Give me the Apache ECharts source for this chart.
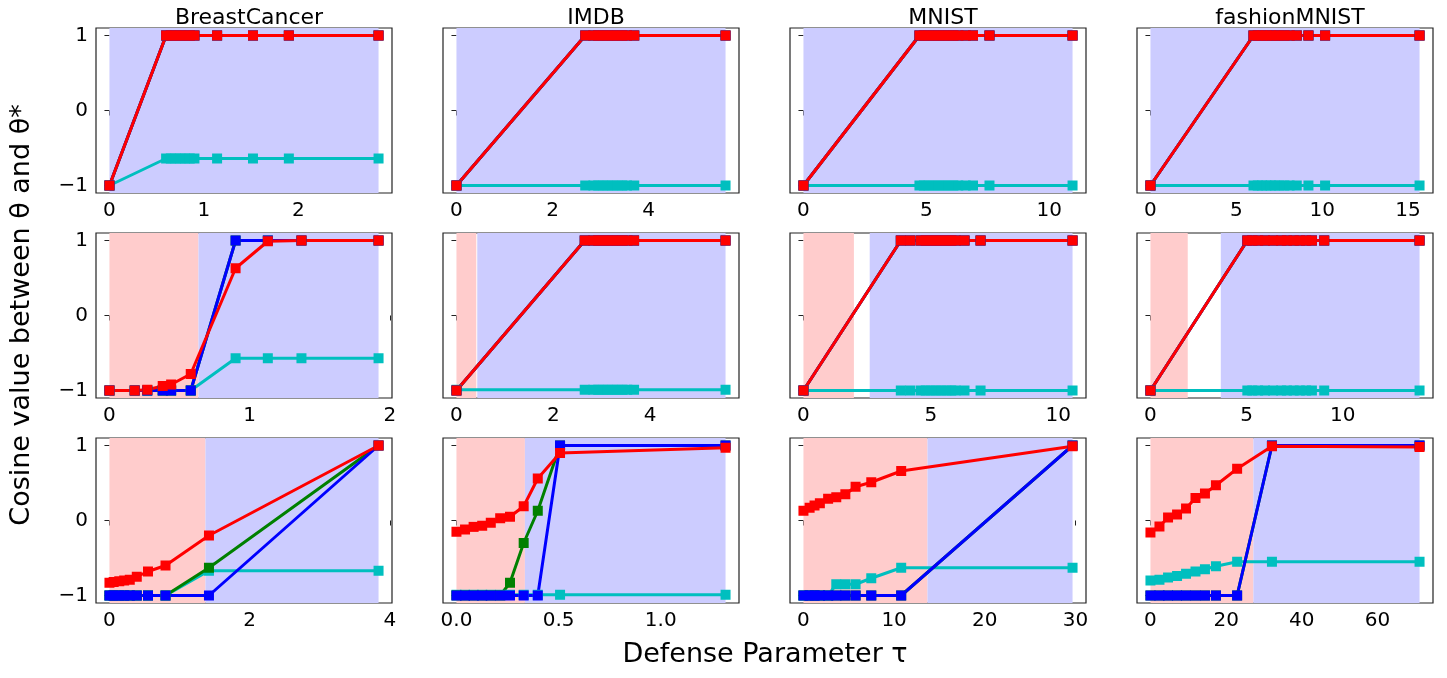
<!DOCTYPE html>
<html lang="en" style="height: 100%">
<head>
  <meta charset="utf-8">
</head>
<body style="height: 100%; margin: 0; background: #fff">
  <div id="container" style="width: 1447px; height: 678px"></div>
  <script type="text/javascript" src="https://cdn.jsdelivr.net/npm/echarts@6/dist/echarts.min.js"></script>
  <script type="text/javascript">
    // dataset titles
    var titles = ['BreastCancer', 'IMDB', 'MNIST', 'fashionMNIST'];

    // ---- row 1 ----
    var x_bc1 = [0, 0.6, 0.65, 0.7, 0.75, 0.8, 0.85, 0.9, 1.14, 1.52, 1.9, 2.85];
    var cyan_bc1 = [-1, -0.64, -0.64, -0.64, -0.64, -0.64, -0.64, -0.64, -0.64, -0.64, -0.64, -0.64];
    var top_bc1 = [-1, 1, 1, 1, 1, 1, 1, 1, 1, 1, 1, 1];

    var x_im1 = [0, 2.68, 2.85, 2.95, 3.05, 3.15, 3.25, 3.35, 3.45, 3.55, 3.7, 5.6];
    var cyan_im1 = [-1, -1, -1, -1, -1, -1, -1, -1, -1, -1, -1, -1];
    var top_im1 = [-1, 1, 1, 1, 1, 1, 1, 1, 1, 1, 1, 1];

    var x_mn1 = [0, 4.72, 4.9, 5.1, 5.3, 5.5, 5.7, 5.9, 6.1, 6.3, 6.6, 6.9, 7.57, 10.95];
    var cyan_mn1 = [-1, -1, -1, -1, -1, -1, -1, -1, -1, -1, -1, -1, -1, -1];
    var top_mn1 = [-1, 1, 1, 1, 1, 1, 1, 1, 1, 1, 1, 1, 1, 1];

    var x_fm1 = [0, 6.0, 6.25, 6.5, 6.75, 7.0, 7.25, 7.5, 7.8, 8.1, 8.52, 9.2, 10.17, 15.67];
    var cyan_fm1 = [-1, -1, -1, -1, -1, -1, -1, -1, -1, -1, -1, -1, -1, -1];
    var top_fm1 = [-1, 1, 1, 1, 1, 1, 1, 1, 1, 1, 1, 1, 1, 1];

    // ---- row 2 ----
    var x_bc2 = [0, 0.18, 0.27, 0.38, 0.44, 0.58, 0.9, 1.13, 1.37, 1.92];
    var cyan_bc2 = [-1, -1, -1, -1, -1, -1, -0.57, -0.57, -0.57, -0.57];
    var blue_bc2 = [-1, -1, -1, -1, -1, -1, 1, 1, 1, 1];
    var red_bc2 = [-1, -1, -0.99, -0.94, -0.92, -0.78, 0.63, 0.99, 1, 1];

    var x_im2 = [0, 2.65, 2.83, 2.93, 3.03, 3.13, 3.23, 3.33, 3.43, 3.53, 3.67, 5.56];
    var cyan_im2 = [-0.99, -0.99, -0.99, -0.99, -0.99, -0.99, -0.99, -0.99, -0.99, -0.99, -0.99, -0.99];
    var top_im2 = [-1, 1, 1, 1, 1, 1, 1, 1, 1, 1, 1, 1];

    var x_mn2 = [0, 3.82, 4.19, 4.6, 4.8, 5.0, 5.2, 5.4, 5.6, 5.8, 5.97, 6.32, 6.95, 10.56];
    var cyan_mn2 = [-1, -1, -1, -1, -1, -1, -1, -1, -1, -1, -1, -1, -1, -1];
    var top_mn2 = [-1, 1, 1, 1, 1, 1, 1, 1, 1, 1, 1, 1, 1, 1];

    var x_fm2 = [0, 5.04, 5.3, 5.6, 5.96, 6.38, 6.8, 7.1, 7.45, 7.77, 8.1, 8.4, 9.04, 14.0];
    var cyan_fm2 = [-1, -1, -1, -1, -1, -1, -1, -1, -1, -1, -1, -1, -1, -1];
    var top_fm2 = [-1, 1, 1, 1, 1, 1, 1, 1, 1, 1, 1, 1, 1, 1];

    // ---- row 3 ----
    var x_bc3 = [0, 0.06, 0.14, 0.21, 0.29, 0.39, 0.55, 0.8, 1.42, 3.84];
    var cyan_bc3 = [-1, -1, -1, -1, -1, -1, -1, -1, -0.67, -0.67];
    var green_bc3 = [-1, -1, -1, -1, -1, -1, -1, -1, -0.63, 1];
    var blue_bc3 = [-1, -1, -1, -1, -1, -1, -1, -1, -1, 1];
    var red_bc3 = [-0.83, -0.82, -0.81, -0.8, -0.79, -0.75, -0.68, -0.6, -0.2, 1];

    var x_im3 = [0, 0.042, 0.084, 0.126, 0.168, 0.214, 0.262, 0.329, 0.398, 0.507, 1.317];
    var cyan_im3 = [-0.99, -0.99, -0.99, -0.99, -0.99, -0.99, -0.99, -0.99, -0.99, -0.99, -0.99];
    var green_im3 = [-1, -1, -1, -1, -1, -1, -0.83, -0.3, 0.13, 1, 1];
    var blue_im3 = [-1, -1, -1, -1, -1, -1, -1, -1, -1, 1, 1];
    var red_im3 = [-0.15, -0.12, -0.085, -0.07, -0.03, 0.03, 0.05, 0.19, 0.56, 0.9, 0.97];

    var x_mn3 = [0, 0.68, 1.22, 1.81, 2.72, 3.62, 4.62, 5.75, 7.48, 10.78, 29.68];
    var cyan_mn3 = [-1, -1, -1, -1, -1, -0.85, -0.85, -0.85, -0.77, -0.63, -0.63];
    var blue_mn3 = [-1, -1, -1, -1, -1, -1, -1, -1, -1, -1, 1];
    var red_mn3 = [0.13, 0.17, 0.2, 0.23, 0.29, 0.31, 0.35, 0.45, 0.51, 0.66, 0.99];

    var x_fm3 = [0, 2.38, 4.65, 7.03, 9.4, 11.9, 14.4, 17.3, 22.9, 32.1, 71.1];
    var cyan_fm3 = [-0.8, -0.79, -0.76, -0.74, -0.71, -0.68, -0.65, -0.61, -0.55, -0.55, -0.55];
    var blue_fm3 = [-1, -1, -1, -1, -1, -1, -1, -1, -1, 1, 1];
    var red_fm3 = [-0.16, -0.08, 0.04, 0.08, 0.16, 0.3, 0.36, 0.47, 0.69, 0.99, 0.98];

    // shaded regions [redStart, redEnd, blueStart, blueEnd] (null = none)
    var bands = [
      [null, null, 0, 2.85], [null, null, 0, 5.6], [null, null, 0, 10.95], [null, null, 0, 15.67],
      [0, 0.635, 0.635, 1.92], [0, 0.41, 0.43, 5.56], [0, 1.98, 2.6, 10.56], [0, 1.94, 3.66, 14.0],
      [0, 1.37, 1.37, 3.84], [0, 0.335, 0.335, 1.317], [0, 13.68, 13.68, 29.68], [0, 27.2, 27.2, 71.1]
    ];

    // x tick labels per panel
    var xTicks = [
      [0, 1, 2], [0, 2, 4], [0, 5, 10], [0, 5, 10, 15],
      [0, 1, 2], [0, 2, 4], [0, 5, 10], [0, 5, 10],
      [0, 2, 4], [0, 0.5, 1.0], [0, 10, 20, 30], [0, 20, 40, 60]
    ];
    var yTicks = [-1, 0, 1];

    // panel: x, cyan, green, blue, red
    var panels = [
      [x_bc1, cyan_bc1, top_bc1, top_bc1, top_bc1],
      [x_im1, cyan_im1, top_im1, top_im1, top_im1],
      [x_mn1, cyan_mn1, top_mn1, top_mn1, top_mn1],
      [x_fm1, cyan_fm1, top_fm1, top_fm1, top_fm1],
      [x_bc2, cyan_bc2, blue_bc2, blue_bc2, red_bc2],
      [x_im2, cyan_im2, top_im2, top_im2, top_im2],
      [x_mn2, cyan_mn2, top_mn2, top_mn2, top_mn2],
      [x_fm2, cyan_fm2, top_fm2, top_fm2, top_fm2],
      [x_bc3, cyan_bc3, green_bc3, blue_bc3, red_bc3],
      [x_im3, cyan_im3, green_im3, blue_im3, red_im3],
      [x_mn3, cyan_mn3, blue_mn3, blue_mn3, red_mn3],
      [x_fm3, cyan_fm3, blue_fm3, blue_fm3, red_fm3]
    ];

    var colors = ['#00bfbf', '#008000', '#0000ff', '#ff0000'];
    var lefts = [96, 443, 790, 1137];
    var tops = [28, 233, 438];
    var W = 296, H = 165;

    var grids = [], xAxes = [], yAxes = [], series = [];
    panels.forEach(function (p, i) {
      var col = i % 4, row = Math.floor(i / 4);
      var xs = p[0];
      var xmax = xs[xs.length - 1];
      grids.push({
        left: lefts[col], top: tops[row], width: W, height: H,
        show: true, borderColor: '#222', borderWidth: 1.2, backgroundColor: '#fff'
      });
      var isDec = i === 9;
      xAxes.push({
        type: 'value', gridIndex: i, min: -0.05 * xmax, max: 1.05 * xmax,
        splitLine: { show: false }, axisLine: { show: false },
        axisTick: { show: true, length: 5, lineStyle: { color: '#222' }, customValues: xTicks[i] },
        axisLabel: {
          fontSize: 20, color: '#000', margin: 8, fontFamily: 'DejaVu Sans', customValues: xTicks[i],
          formatter: function (v) { return isDec ? v.toFixed(1) : String(v); }
        }
      });
      yAxes.push({
        type: 'value', gridIndex: i, min: -1.1, max: 1.1,
        splitLine: { show: false }, axisLine: { show: false },
        axisTick: { show: true, length: 5, lineStyle: { color: '#222' }, customValues: yTicks },
        axisLabel: {
          show: col === 0, fontSize: 20, color: '#000', margin: 8, fontFamily: 'DejaVu Sans',
          customValues: yTicks,
          formatter: function (v) { return v < 0 ? '\u2212' + Math.abs(v) : String(v); }
        }
      });
      var b = bands[i];
      var areas = [];
      if (b[0] !== null) areas.push([{ xAxis: b[0], itemStyle: { color: '#ffcccc' } }, { xAxis: b[1] }]);
      areas.push([{ xAxis: b[2], itemStyle: { color: '#ccccff' } }, { xAxis: b[3] }]);
      series.push({
        type: 'line', xAxisIndex: i, yAxisIndex: i, data: [], silent: true,
        markArea: { silent: true, data: areas }
      });
      for (var k = 0; k < 4; k++) {
        var ys = p[k + 1];
        series.push({
          type: 'line', xAxisIndex: i, yAxisIndex: i,
          data: xs.map(function (x, j) { return [x, ys[j]]; }),
          symbol: 'rect', symbolSize: 10, showSymbol: true,
          lineStyle: { color: colors[k], width: 3 },
          itemStyle: { color: colors[k] }
        });
      }
    });

    var chart = echarts.init(document.getElementById('container'), null, { renderer: 'canvas' });
    chart.setOption({
      animation: false,
      title: titles.map(function (t, c) {
        return {
          text: t, left: lefts[c] + W / 2, top: 2, textAlign: 'center',
          textStyle: { fontSize: 22, fontWeight: 'normal', color: '#000', fontFamily: 'DejaVu Sans' }
        };
      }),
      grid: grids, xAxis: xAxes, yAxis: yAxes, series: series,
      graphic: [
        {
          type: 'text', x: 22, y: 315, rotation: Math.PI / 2,
          style: {
            text: 'Cosine value between \u03B8 and \u03B8*', fontSize: 27, fill: '#000',
            fontFamily: 'DejaVu Sans', align: 'center', verticalAlign: 'middle'
          }
        },
        {
          type: 'text', x: 765, y: 655,
          style: {
            text: 'Defense Parameter \u03C4', fontSize: 27, fill: '#000',
            fontFamily: 'DejaVu Sans', align: 'center', verticalAlign: 'middle'
          }
        }
      ]
    });
  </script>
</body>
</html>
